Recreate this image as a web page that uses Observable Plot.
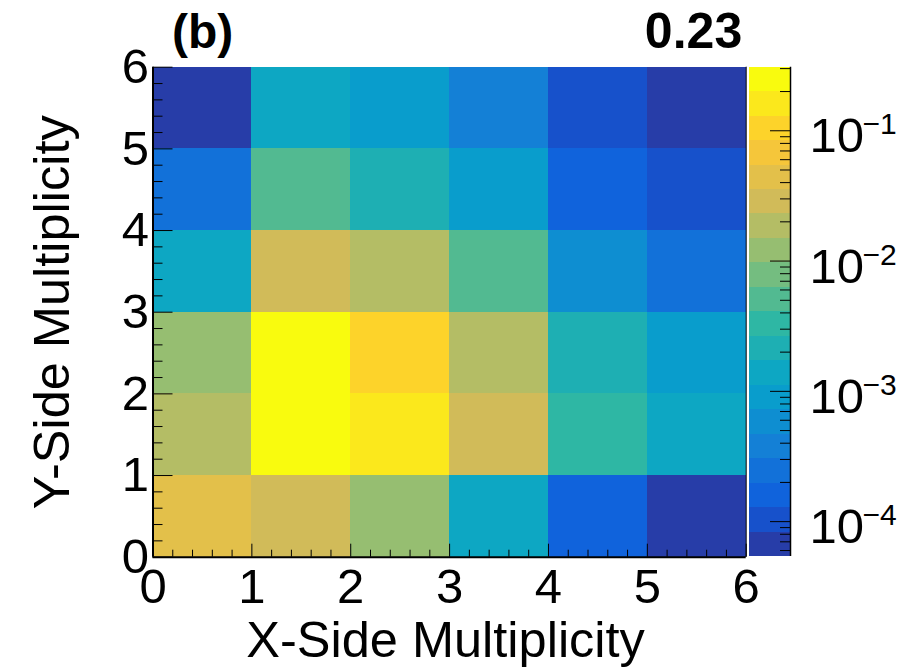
<!DOCTYPE html>
<html><head><meta charset="utf-8">
<script src="https://cdn.jsdelivr.net/npm/d3@7"></script>
<script src="https://cdn.jsdelivr.net/npm/@observablehq/plot@0.6"></script>
<style>
html,body{margin:0;padding:0;background:#fff;}
#chart{position:relative;width:898px;height:671px;overflow:hidden;background:#fff;}
#chart svg{position:absolute;left:0;top:0;}
</style></head><body><div id="chart"></div>
<script>
// ---- data ----
const xEdges = [0, 1, 2, 3, 4, 5, 6];
const yEdges = [0, 1, 2, 3, 4, 5, 6];
// one array per Y bin (bottom to top), values per X bin (left to right)
const rowY0 = [0.044, 0.029, 0.012, 0.0014, 1.6e-4, 6.5e-5];
const rowY1 = [0.018, 0.30, 0.16, 0.028, 3.3e-3, 1.4e-3];
const rowY2 = [0.012, 0.24, 0.105, 0.019, 2.1e-3, 9.0e-4];
const rowY3 = [1.4e-3, 0.029, 0.018, 5.0e-3, 5.8e-4, 2.5e-4];
const rowY4 = [2.4e-4, 5.1e-3, 2.1e-3, 9.0e-4, 1.6e-4, 1.05e-4];
const rowY5 = [6.8e-5, 1.4e-3, 9.0e-4, 3.8e-4, 1.0e-4, 6.6e-5];
const zMin = 5.4e-5, zMax = 0.3076;   // colour-bar range
const nContours = 20;
const xTicks = [0, 1, 2, 3, 4, 5, 6];
const yTicks = [0, 1, 2, 3, 4, 5, 6];
const zMajorTicks = [1e-4, 1e-3, 1e-2, 1e-1];
const zExponents = ["\u22124", "\u22123", "\u22122", "\u22121"];
const xTitle = "X-Side Multiplicity";
const yTitle = "Y-Side Multiplicity";
const panelLabel = "(b)";
const cornerValue = "0.23";

// ---- ROOT kBird palette ----
const birdStops = [
  [0.2082,0.1664,0.5293],[0.0592,0.3599,0.8684],[0.0780,0.5041,0.8385],
  [0.0232,0.6419,0.7914],[0.1802,0.7178,0.6425],[0.5301,0.7492,0.4662],
  [0.8186,0.7328,0.3499],[0.9956,0.7862,0.1968],[0.9764,0.9832,0.0539]];
const bird = d3.piecewise(d3.interpolateRgb, birdStops.map(c => d3.rgb(c[0]*255, c[1]*255, c[2]*255)));
const palette = d3.range(nContours).map(k => bird(Math.floor((k + 0.99) * 255 / nContours) / 254));
const lz0 = Math.log10(zMin), lz1 = Math.log10(zMax), step = (lz1 - lz0) / nContours;
const levels = d3.range(nContours + 1).map(k => Math.pow(10, lz0 + k * step));
const bands = d3.range(nContours).map(k => ({lo: levels[k], hi: levels[k + 1], mid: Math.pow(10, lz0 + (k + 0.5) * step)}));
const colorCfg = {type: "threshold", domain: levels.slice(1, -1), range: palette};

const rows = [rowY0, rowY1, rowY2, rowY3, rowY4, rowY5];
const cells = [];
rows.forEach((r, j) => r.forEach((z, i) => cells.push({x1: xEdges[i], x2: xEdges[i + 1], y1: yEdges[j], y2: yEdges[j + 1], z})));

const xMinor = d3.range(0, 30).map(k => k / 5).filter(v => v % 1 !== 0);
const yMinor = xMinor;
const zMinor = [];
for (let e = -5; e <= 0; e++) for (let m = 2; m <= 9; m++) { const v = m * Math.pow(10, e); if (v > zMin && v < zMax) zMinor.push(v); }

// ---- layout ----
const W = 898, H = 671, mL = 152.5, mR = 152.3, mT = 66.7, mB = 114.3;
const pw = W - mL - mR, ph = H - mT - mB;
const font = "'Liberation Sans', Arial, Helvetica, sans-serif";

const main = Plot.plot({
  width: W, height: H, marginLeft: mL, marginRight: mR, marginTop: mT, marginBottom: mB,
  style: {fontFamily: font, fontSize: "49px", background: "transparent", overflow: "visible", color: "black"},
  x: {domain: [0, 6]},
  y: {domain: [0, 6]},
  color: colorCfg,
  marks: [
    Plot.rect(cells, {x1: "x1", x2: "x2", y1: "y1", y2: "y2", fill: "z", shapeRendering: "crispEdges"}),
    Plot.tickX(xMinor, {x: d => d, insetTop: ph - 7, stroke: "black", strokeWidth: 1}),
    Plot.tickX(xTicks, {x: d => d, insetTop: ph - 13, stroke: "black", strokeWidth: 1}),
    Plot.tickY(yMinor, {y: d => d, insetRight: pw - 10, stroke: "black", strokeWidth: 1}),
    Plot.tickY(yTicks, {y: d => d, insetRight: pw - 20, stroke: "black", strokeWidth: 1}),
    Plot.ruleX([6], {stroke: "black", strokeWidth: 1}),
    Plot.ruleX([0], {stroke: "black", strokeWidth: 2}),
    Plot.ruleY([0], {stroke: "black", strokeWidth: 2}),
    Plot.axisX(xTicks, {tickSize: 0, tickPadding: 11.5, tickFormat: d => String(d), label: null, fill: "black"}),
    Plot.axisY(yTicks, {tickSize: 0, tickPadding: 4, tickFormat: d => String(d), label: null, fill: "black"}),
    Plot.text([xTitle], {text: d => d, frameAnchor: "bottom", textAnchor: "middle", lineAnchor: "middle", dx: -4, dy: 84, fontSize: 50.5, fill: "black"}),
    Plot.text([yTitle], {text: d => d, frameAnchor: "left", textAnchor: "middle", lineAnchor: "middle", rotate: -90, dx: -100.5, fontSize: 50.5, fill: "black"}),
    Plot.text([panelLabel], {text: d => d, frameAnchor: "top-left", textAnchor: "start", lineAnchor: "middle", dx: 19, dy: -35, fontSize: 48, fontWeight: "bold", fill: "black"}),
    Plot.text([cornerValue], {text: d => d, frameAnchor: "top-right", textAnchor: "end", lineAnchor: "middle", dx: -4, dy: -35.5, fontSize: 50, fontWeight: "bold", fill: "black"})
  ]
});

const bar = Plot.plot({
  width: W, height: H, marginLeft: 749, marginRight: W - 790, marginTop: mT, marginBottom: mB + 0.7,
  style: {fontFamily: font, fontSize: "49px", background: "transparent", overflow: "visible", color: "black"},
  x: {domain: [0, 1], axis: null},
  y: {type: "log", domain: [zMin, zMax], axis: null},
  color: colorCfg,
  marks: [
    Plot.rect(bands, {y1: "lo", y2: "hi", fill: "mid", shapeRendering: "crispEdges"}),
    Plot.tickY(zMinor, {y: d => d, insetLeft: 31, stroke: "black", strokeWidth: 1}),
    Plot.tickY(zMajorTicks, {y: d => d, insetLeft: 21, stroke: "black", strokeWidth: 1}),
    Plot.ruleX([1], {stroke: "black", strokeWidth: 1.5}),
    Plot.text(zMajorTicks, {y: d => d, text: () => "10", frameAnchor: "right", textAnchor: "start", lineAnchor: "middle", dx: 19, dy: 6, fontSize: 49, fill: "black"}),
    Plot.text(zMajorTicks, {y: d => d, text: zExponents, frameAnchor: "right", textAnchor: "start", lineAnchor: "middle", dx: 72, dy: -6, fontSize: 30, fill: "black"})
  ]
});

const chart = document.getElementById("chart");
chart.appendChild(main);
chart.appendChild(bar);
</script></body></html>
